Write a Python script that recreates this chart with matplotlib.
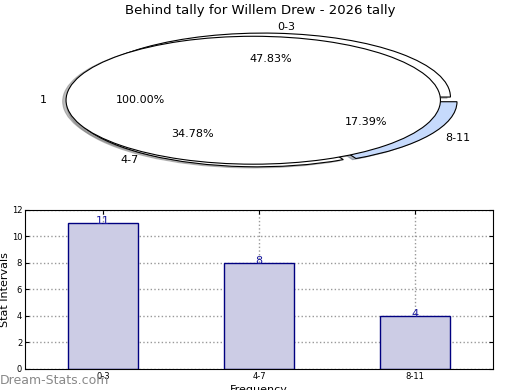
import matplotlib
matplotlib.use('Agg')
import matplotlib.pyplot as plt

# data
categories = ['0-3', '4-7', '8-11']
counts = [11, 8, 4]
total_label = ['1']
total_value = [1]
title = 'Behind tally for Willem Drew - 2026 tally'
yticks = [0, 2, 4, 6, 8, 10, 12]

fig = plt.figure(figsize=(5.2, 3.9), dpi=100)

# --- pie (two pies drawn on one squashed axes) ---
ax1 = fig.add_axes([0.055, 0.538, 0.9, 0.41])
wedge_kw = dict(edgecolor='black', linewidth=0.8)
shadow_kw = dict(ox=-0.013, oy=-0.013, shade=0.5)
ax1.pie(counts, labels=categories, autopct='%.2f%%', startangle=0,
        explode=[0.05, 0.05, 0.045], shadow=shadow_kw,
        colors=['white', 'white', '#c6dafc'], wedgeprops=wedge_kw,
        textprops=dict(fontsize=8))
ax1.pie(total_value, labels=total_label, autopct='%.2f%%', startangle=0,
        explode=[0.05], shadow=shadow_kw, colors=['white'],
        wedgeprops=wedge_kw, textprops=dict(fontsize=8))
ax1.set_aspect('auto')
ax1.set_xlim(-1.25, 1.25)
ax1.set_ylim(-1.25, 1.25)
fig.text(0.5, 0.974, title, ha='center', va='center', fontsize=9.5)

# --- bars ---
ax2 = fig.add_axes([0.048, 0.054, 0.9, 0.408])
x = range(len(categories))
ax2.bar(x, counts, width=0.45, color='#ccccE5', edgecolor='#000080',
        linewidth=1.0, zorder=2)
for xi, v in zip(x, counts):
    ax2.text(xi, v - 0.2, str(v), ha='center', va='bottom', fontsize=8,
             color='#1a1aa0', zorder=3)
ax2.set_xlim(-0.5, 2.5)
ax2.set_ylim(0, 12)
ax2.set_xticks(list(x))
ax2.set_xticklabels(categories)
ax2.set_yticks(yticks)
ax2.tick_params(labelsize=6, direction='in', top=True, right=True,
                length=3, pad=2)
ax2.grid(True, linestyle=':', color='#999999', linewidth=1.0, zorder=0)
ax2.set_axisbelow(True)
ax2.set_ylabel('Stat Intervals', fontsize=8, labelpad=1)
ax2.set_xlabel('Frequency', fontsize=8, labelpad=3)

fig.text(0.0, 1 - 381 / 390, 'Dream-Stats.com', ha='left', va='center',
         fontsize=9, color='#888888')

fig.savefig('out.png', dpi=100)
